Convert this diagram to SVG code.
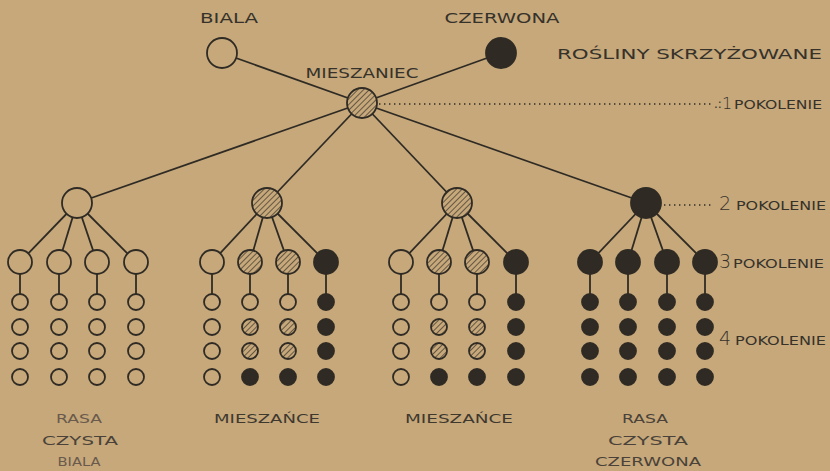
<svg xmlns="http://www.w3.org/2000/svg" width="830" height="471" viewBox="0 0 830 471">
<defs>
<pattern id="hatch" patternUnits="userSpaceOnUse" width="4" height="4" patternTransform="rotate(45)">
<rect width="4" height="4" fill="#c6a87b"/>
<line x1="0" y1="0" x2="0" y2="4" stroke="#2f2b24" stroke-width="1.3"/>
</pattern>
</defs>
<style>
.bg{fill:#c6a87b}
.ln{stroke:#2f2b24;stroke-width:1.8;fill:none}
.dot{stroke:#2f2b24;stroke-width:1.4;stroke-dasharray:1.4 3.6;fill:none}
.o{fill:#c6a87b;stroke:#2f2b24;stroke-width:1.8}
.h{fill:url(#hatch);stroke:#2f2b24;stroke-width:1.8}
.f{fill:#2f2b24;stroke:#2f2b24;stroke-width:1.8}
.t{font-family:"DejaVu Sans","Liberation Sans",sans-serif;font-size:14px;fill:#36322a}
.s{font-family:"DejaVu Sans","Liberation Sans",sans-serif;font-size:12px;fill:#36322a}
.n{font-family:"DejaVu Sans","Liberation Sans",sans-serif;font-size:19px;fill:#36322a;font-weight:300}
.b{font-family:"DejaVu Sans","Liberation Sans",sans-serif;font-size:13px;fill:#6a5a4c}
</style>
<rect class="bg" x="0" y="0" width="830" height="471"/>

<g id="connectors">
<line class="ln" x1="222" y1="53" x2="362" y2="103"/>
<line class="ln" x1="501" y1="53" x2="362" y2="103"/>
<line class="ln" x1="362" y1="103" x2="77" y2="203"/>
<line class="ln" x1="362" y1="103" x2="267" y2="203"/>
<line class="ln" x1="362" y1="103" x2="457" y2="203"/>
<line class="ln" x1="362" y1="103" x2="646" y2="203"/>
<line class="dot" x1="379" y1="104" x2="714" y2="104"/>
<line class="dot" x1="664" y1="205" x2="714" y2="205"/>
<line class="ln" x1="77" y1="203" x2="20" y2="262"/>
<line class="ln" x1="77" y1="203" x2="59" y2="262"/>
<line class="ln" x1="77" y1="203" x2="97" y2="262"/>
<line class="ln" x1="77" y1="203" x2="136" y2="262"/>
<line class="ln" x1="20" y1="262" x2="20" y2="302"/>
<line class="ln" x1="59" y1="262" x2="59" y2="302"/>
<line class="ln" x1="97" y1="262" x2="97" y2="302"/>
<line class="ln" x1="136" y1="262" x2="136" y2="302"/>
<line class="ln" x1="267" y1="203" x2="212" y2="262"/>
<line class="ln" x1="267" y1="203" x2="250" y2="262"/>
<line class="ln" x1="267" y1="203" x2="288" y2="262"/>
<line class="ln" x1="267" y1="203" x2="326" y2="262"/>
<line class="ln" x1="212" y1="262" x2="212" y2="302"/>
<line class="ln" x1="250" y1="262" x2="250" y2="302"/>
<line class="ln" x1="288" y1="262" x2="288" y2="302"/>
<line class="ln" x1="326" y1="262" x2="326" y2="302"/>
<line class="ln" x1="457" y1="203" x2="401" y2="262"/>
<line class="ln" x1="457" y1="203" x2="439" y2="262"/>
<line class="ln" x1="457" y1="203" x2="477" y2="262"/>
<line class="ln" x1="457" y1="203" x2="516" y2="262"/>
<line class="ln" x1="401" y1="262" x2="401" y2="302"/>
<line class="ln" x1="439" y1="262" x2="439" y2="302"/>
<line class="ln" x1="477" y1="262" x2="477" y2="302"/>
<line class="ln" x1="516" y1="262" x2="516" y2="302"/>
<line class="ln" x1="646" y1="203" x2="590" y2="262"/>
<line class="ln" x1="646" y1="203" x2="628" y2="262"/>
<line class="ln" x1="646" y1="203" x2="667" y2="262"/>
<line class="ln" x1="646" y1="203" x2="705" y2="262"/>
<line class="ln" x1="590" y1="262" x2="590" y2="302"/>
<line class="ln" x1="628" y1="262" x2="628" y2="302"/>
<line class="ln" x1="667" y1="262" x2="667" y2="302"/>
<line class="ln" x1="705" y1="262" x2="705" y2="302"/>
</g>

<g id="biala"><circle class="o" cx="222" cy="53" r="15"/><text class="t" x="229" y="23" text-anchor="middle" textLength="58" lengthAdjust="spacingAndGlyphs">BIALA</text></g>
<g id="czerwona"><circle class="f" cx="501" cy="53" r="15"/><text class="t" x="502" y="23" text-anchor="middle" textLength="115" lengthAdjust="spacingAndGlyphs">CZERWONA</text></g>
<g id="mieszaniec"><circle class="h" cx="362" cy="103" r="15"/><text class="t" x="362" y="78" text-anchor="middle" textLength="113" lengthAdjust="spacingAndGlyphs">MIESZANIEC</text></g>

<g id="title"><text class="t" x="557" y="59" textLength="265" lengthAdjust="spacingAndGlyphs">ROŚLINY   SKRZYŻOWANE</text></g>
<g id="label-p1"><text class="s" x="714" y="108">.:</text><text class="n" x="722" y="109" style="font-size:16px">1</text><text class="s" x="734" y="109" textLength="88" lengthAdjust="spacingAndGlyphs">POKOLENIE</text></g>
<g id="label-p2"><text class="n" x="719" y="210">2</text><text class="s" x="736" y="210" textLength="90" lengthAdjust="spacingAndGlyphs">POKOLENIE</text></g>
<g id="label-p3"><text class="n" x="719" y="268">3</text><text class="s" x="733" y="268" textLength="91" lengthAdjust="spacingAndGlyphs">POKOLENIE</text></g>
<g id="label-p4"><text class="n" x="719" y="345">4</text><text class="s" x="735" y="345" textLength="91" lengthAdjust="spacingAndGlyphs">POKOLENIE</text></g>

<g id="g2-1"><circle class="o" cx="77" cy="203" r="15"/></g>
<g id="g2-2"><circle class="h" cx="267" cy="203" r="15"/></g>
<g id="g2-3"><circle class="h" cx="457" cy="203" r="15"/></g>
<g id="g2-4"><circle class="f" cx="646" cy="203" r="15"/></g>

<g id="g3-1-1"><circle class="o" cx="20" cy="262" r="12"/></g>
<g id="g3-1-2"><circle class="o" cx="59" cy="262" r="12"/></g>
<g id="g3-1-3"><circle class="o" cx="97" cy="262" r="12"/></g>
<g id="g3-1-4"><circle class="o" cx="136" cy="262" r="12"/></g>
<g id="g4-1-1"><circle class="o" cx="20" cy="302" r="8"/><circle class="o" cx="20" cy="327" r="8"/><circle class="o" cx="20" cy="351" r="8"/><circle class="o" cx="20" cy="377" r="8"/></g>
<g id="g4-1-2"><circle class="o" cx="59" cy="302" r="8"/><circle class="o" cx="59" cy="327" r="8"/><circle class="o" cx="59" cy="351" r="8"/><circle class="o" cx="59" cy="377" r="8"/></g>
<g id="g4-1-3"><circle class="o" cx="97" cy="302" r="8"/><circle class="o" cx="97" cy="327" r="8"/><circle class="o" cx="97" cy="351" r="8"/><circle class="o" cx="97" cy="377" r="8"/></g>
<g id="g4-1-4"><circle class="o" cx="136" cy="302" r="8"/><circle class="o" cx="136" cy="327" r="8"/><circle class="o" cx="136" cy="351" r="8"/><circle class="o" cx="136" cy="377" r="8"/></g>

<g id="g3-2-1"><circle class="o" cx="212" cy="262" r="12"/></g>
<g id="g3-2-2"><circle class="h" cx="250" cy="262" r="12"/></g>
<g id="g3-2-3"><circle class="h" cx="288" cy="262" r="12"/></g>
<g id="g3-2-4"><circle class="f" cx="326" cy="262" r="12"/></g>
<g id="g4-2-1"><circle class="o" cx="212" cy="302" r="8"/><circle class="o" cx="212" cy="327" r="8"/><circle class="o" cx="212" cy="351" r="8"/><circle class="o" cx="212" cy="377" r="8"/></g>
<g id="g4-2-2"><circle class="o" cx="250" cy="302" r="8"/><circle class="h" cx="250" cy="327" r="8"/><circle class="h" cx="250" cy="351" r="8"/><circle class="f" cx="250" cy="377" r="8"/></g>
<g id="g4-2-3"><circle class="o" cx="288" cy="302" r="8"/><circle class="h" cx="288" cy="327" r="8"/><circle class="h" cx="288" cy="351" r="8"/><circle class="f" cx="288" cy="377" r="8"/></g>
<g id="g4-2-4"><circle class="f" cx="326" cy="302" r="8"/><circle class="f" cx="326" cy="327" r="8"/><circle class="f" cx="326" cy="351" r="8"/><circle class="f" cx="326" cy="377" r="8"/></g>

<g id="g3-3-1"><circle class="o" cx="401" cy="262" r="12"/></g>
<g id="g3-3-2"><circle class="h" cx="439" cy="262" r="12"/></g>
<g id="g3-3-3"><circle class="h" cx="477" cy="262" r="12"/></g>
<g id="g3-3-4"><circle class="f" cx="516" cy="262" r="12"/></g>
<g id="g4-3-1"><circle class="o" cx="401" cy="302" r="8"/><circle class="o" cx="401" cy="327" r="8"/><circle class="o" cx="401" cy="351" r="8"/><circle class="o" cx="401" cy="377" r="8"/></g>
<g id="g4-3-2"><circle class="o" cx="439" cy="302" r="8"/><circle class="h" cx="439" cy="327" r="8"/><circle class="h" cx="439" cy="351" r="8"/><circle class="f" cx="439" cy="377" r="8"/></g>
<g id="g4-3-3"><circle class="o" cx="477" cy="302" r="8"/><circle class="h" cx="477" cy="327" r="8"/><circle class="h" cx="477" cy="351" r="8"/><circle class="f" cx="477" cy="377" r="8"/></g>
<g id="g4-3-4"><circle class="f" cx="516" cy="302" r="8"/><circle class="f" cx="516" cy="327" r="8"/><circle class="f" cx="516" cy="351" r="8"/><circle class="f" cx="516" cy="377" r="8"/></g>

<g id="g3-4-1"><circle class="f" cx="590" cy="262" r="12"/></g>
<g id="g3-4-2"><circle class="f" cx="628" cy="262" r="12"/></g>
<g id="g3-4-3"><circle class="f" cx="667" cy="262" r="12"/></g>
<g id="g3-4-4"><circle class="f" cx="705" cy="262" r="12"/></g>
<g id="g4-4-1"><circle class="f" cx="590" cy="302" r="8"/><circle class="f" cx="590" cy="327" r="8"/><circle class="f" cx="590" cy="351" r="8"/><circle class="f" cx="590" cy="377" r="8"/></g>
<g id="g4-4-2"><circle class="f" cx="628" cy="302" r="8"/><circle class="f" cx="628" cy="327" r="8"/><circle class="f" cx="628" cy="351" r="8"/><circle class="f" cx="628" cy="377" r="8"/></g>
<g id="g4-4-3"><circle class="f" cx="667" cy="302" r="8"/><circle class="f" cx="667" cy="327" r="8"/><circle class="f" cx="667" cy="351" r="8"/><circle class="f" cx="667" cy="377" r="8"/></g>
<g id="g4-4-4"><circle class="f" cx="705" cy="302" r="8"/><circle class="f" cx="705" cy="327" r="8"/><circle class="f" cx="705" cy="351" r="8"/><circle class="f" cx="705" cy="377" r="8"/></g>

<g id="label-rasa-biala">
<text class="b" x="79" y="423" text-anchor="middle" textLength="46" lengthAdjust="spacingAndGlyphs">RASA</text>
<text class="b" x="80" y="445" text-anchor="middle" textLength="76" lengthAdjust="spacingAndGlyphs" style="fill:#4a4238">CZYSTA</text>
<text class="b" x="79" y="466" text-anchor="middle" textLength="43" lengthAdjust="spacingAndGlyphs" style="font-size:12px">BIALA</text>
</g>
<g id="label-mieszance-1"><text class="b" x="267" y="423" text-anchor="middle" textLength="106" lengthAdjust="spacingAndGlyphs" style="fill:#3e382f">MIESZAŃCE</text></g>
<g id="label-mieszance-2"><text class="b" x="459" y="423" text-anchor="middle" textLength="108" lengthAdjust="spacingAndGlyphs" style="fill:#3e382f">MIESZAŃCE</text></g>
<g id="label-rasa-czerwona">
<text class="b" x="645" y="423" text-anchor="middle" textLength="46" lengthAdjust="spacingAndGlyphs" style="fill:#4a4238">RASA</text>
<text class="b" x="648" y="445" text-anchor="middle" textLength="80" lengthAdjust="spacingAndGlyphs" style="fill:#4a4238">CZYSTA</text>
<text class="b" x="648" y="466" text-anchor="middle" textLength="106" lengthAdjust="spacingAndGlyphs" style="fill:#4a4238;font-size:12px">CZERWONA</text>
</g>
</svg>
